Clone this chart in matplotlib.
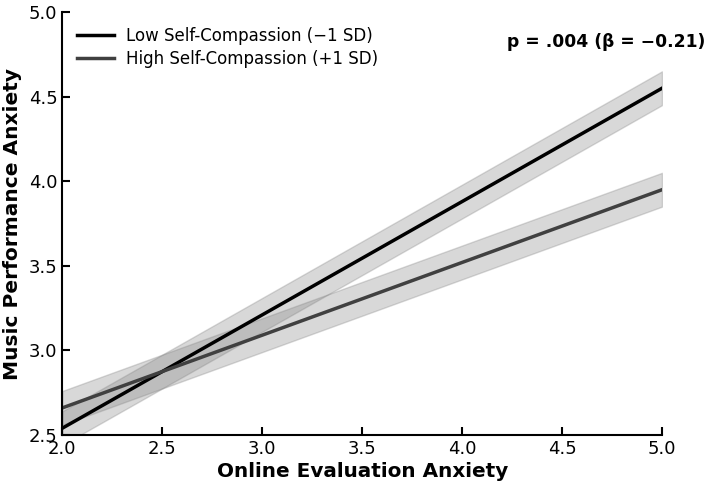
import numpy as np
import matplotlib
matplotlib.use('Agg')
import matplotlib.pyplot as plt

# simple slopes, endpoints
x = [2.0, 5.0]
low_sc = [2.54, 4.55]
low_lo = [2.44, 4.45]
low_hi = [2.64, 4.65]
high_sc = [2.66, 3.95]
high_lo = [2.56, 3.85]
high_hi = [2.76, 4.05]

fig = plt.figure(figsize=(7.08, 4.86), dpi=100)
ax = fig.add_axes([0.088, 0.105, 0.847, 0.87])

ax.fill_between(x, low_lo, low_hi, color='gray', alpha=0.3, edgecolor='gray', linewidth=1)
ax.fill_between(x, high_lo, high_hi, color='gray', alpha=0.3, edgecolor='gray', linewidth=1)
ax.plot(x, low_sc, color='black', lw=2.5, label='Low Self-Compassion (\u22121 SD)')
ax.plot(x, high_sc, color='#404040', lw=2.5, label='High Self-Compassion (+1 SD)')

ax.set_xlim(2.0, 5.0)
ax.set_ylim(2.5, 5.0)
ax.set_xticks(np.arange(2.0, 5.01, 0.5))
ax.set_yticks(np.arange(2.5, 5.01, 0.5))
ax.tick_params(direction='in', length=6, width=1.5, labelsize=13)
ax.spines['top'].set_visible(False)
ax.spines['right'].set_visible(False)
ax.spines['left'].set_linewidth(1.5)
ax.spines['bottom'].set_linewidth(1.5)

ax.set_xlabel('Online Evaluation Anxiety', fontsize=14.4, fontweight='bold', labelpad=3)
ax.set_ylabel('Music Performance Anxiety', fontsize=14.5, fontweight='bold', labelpad=5)

ax.legend(loc='upper left', frameon=False, fontsize=12, handlelength=2.2,
          labelspacing=0.3, handletextpad=0.7, bbox_to_anchor=(0.0, 1.0))
fig.text(0.996, 0.913, 'p = .004 (\u03b2 = \u22120.21)', ha='right', va='center',
         fontsize=12.3, fontweight='bold')

fig.savefig('out.png', dpi=100)
